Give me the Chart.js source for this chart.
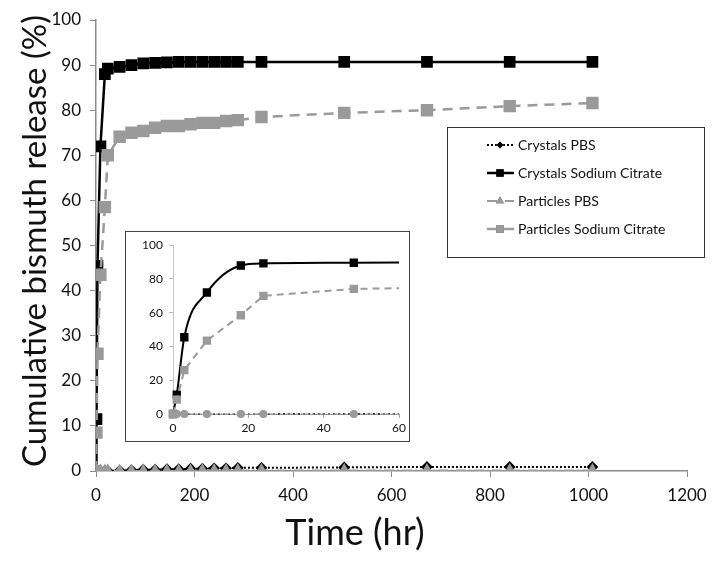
<!DOCTYPE html>
<html>
<head>
<meta charset="utf-8">
<script src="https://cdn.jsdelivr.net/npm/chart.js@4.4.0/dist/chart.umd.min.js"></script>
<style>
  html, body { margin: 0; padding: 0; background: #fff; }
  #wrap { position: relative; width: 716px; height: 563px; }
  #main { position: absolute; left: 0; top: 0; }
  #insetBox { position: absolute; left: 125px; top: 231px; width: 283px; height: 209px;
              border: 1px solid #444; background: #fff; }
</style>
</head>
<body>
<div id="wrap">
  <canvas id="main" width="716" height="563"></canvas>
  <div id="insetBox"><canvas id="inset" width="283" height="209"></canvas></div>
</div>
<script>
// release data (hours vs % released)
const hours = [0, 1, 3, 9, 18, 24, 48, 72, 96, 120, 144, 168, 192, 216, 240, 264, 288, 336, 504, 672, 840, 1008];
const crystalsPBS = [0, 0, 0, 0, 0, 0, 0.1, 0.2, 0.3, 0.3, 0.4, 0.4, 0.5, 0.5, 0.6, 0.6, 0.7, 0.7, 0.8, 0.9, 0.9, 0.9];
const crystalsCitrate = [0, 11.5, 45.5, 72, 88, 89.2, 89.6, 90, 90.4, 90.5, 90.6, 90.7, 90.7, 90.7, 90.7, 90.7, 90.7, 90.7, 90.7, 90.7, 90.7, 90.7];
const particlesPBS = [0, 0, 0, 0, 0, 0, 0, 0, 0, 0, 0, 0, 0, 0.1, 0.1, 0.1, 0.1, 0.1, 0.1, 0.1, 0.1, 0.1];
const particlesCitrate = [0, 8.5, 26, 43.5, 58.5, 70, 74.1, 75, 75.4, 76.1, 76.5, 76.5, 76.9, 77.2, 77.2, 77.6, 77.8, 78.5, 79.4, 80, 80.9, 81.6];

const seriesNames = ['Crystals PBS', 'Crystals Sodium Citrate', 'Particles PBS', 'Particles Sodium Citrate'];
const xTitle = 'Time (hr)';
const yTitle = 'Cumulative bismuth release (%)';

const GREY = '#9a9a9a';
const AXIS = '#8c8c8c';
const FONT = 'Lato';

const pts = vals => hours.map((h, i) => ({ x: h, y: vals[i] }));
const plain = v => String(v);   // no thousands separator

// === Main chart ===
function mainDatasets() {
  return [
    { label: seriesNames[0], data: pts(crystalsPBS), borderColor: '#000', backgroundColor: '#000',
      borderWidth: 2, borderDash: [2, 2], pointStyle: 'rectRot', pointRadius: 4.5, order: 4 },
    { label: seriesNames[1], data: pts(crystalsCitrate), borderColor: '#000', backgroundColor: '#000',
      borderWidth: 2.5, pointStyle: 'rect', pointRadius: 6.5, order: 3 },
    { label: seriesNames[2], data: pts(particlesPBS), borderColor: GREY, backgroundColor: GREY,
      borderWidth: 2, borderDash: [10, 3, 2, 3], pointStyle: 'triangle', pointRadius: 5.5, order: 2 },
    { label: seriesNames[3], data: pts(particlesCitrate), borderColor: GREY, backgroundColor: GREY,
      borderWidth: 2.5, borderDash: [10, 7], pointStyle: 'rect', pointRadius: 7, order: 1 }
  ];
}

// titles + boxed legend drawn by hand (Excel-style placement)
const decorPlugin = {
  id: 'decor',
  afterDraw(chart) {
    const ctx = chart.ctx;
    ctx.save();
    ctx.fillStyle = '#111';
    ctx.textAlign = 'center';
    ctx.textBaseline = 'middle';
    ctx.font = '36px ' + FONT;
    ctx.fillText(xTitle, 355, 533);
    ctx.translate(35, 241);
    ctx.rotate(-Math.PI / 2);
    ctx.font = '33px ' + FONT;
    ctx.fillText(yTitle, 0, 0);
    ctx.restore();

    // legend
    ctx.save();
    ctx.fillStyle = '#fff';
    ctx.fillRect(447.5, 127.5, 257, 130);
    ctx.strokeStyle = '#333';
    ctx.lineWidth = 1;
    ctx.strokeRect(447.5, 127.5, 257, 130);
    const ys = [145, 173, 201, 229];
    chart.data.datasets.forEach((ds, i) => {
      const y = ys[i];
      ctx.beginPath();
      ctx.setLineDash(ds.borderDash || []);
      ctx.strokeStyle = ds.borderColor;
      ctx.lineWidth = ds.borderWidth;
      ctx.moveTo(487, y);
      ctx.lineTo(514, y);
      ctx.stroke();
      ctx.setLineDash([]);
      Chart.helpers.drawPoint(ctx, { pointStyle: ds.pointStyle, radius: ds.pointRadius * 0.8, borderWidth: 0 }, 500, y);
      ctx.fillStyle = ds.backgroundColor;
      ctx.fill();
      ctx.fillStyle = '#111';
      ctx.font = '14px ' + FONT;
      ctx.textAlign = 'left';
      ctx.textBaseline = 'middle';
      ctx.fillText(ds.label, 518, y);
    });
    ctx.restore();
  }
};

new Chart(document.getElementById('main'), {
  type: 'line',
  data: { datasets: mainDatasets() },
  options: {
    responsive: false,
    animation: false,
    layout: { padding: { top: 20, right: 29, left: 0, bottom: 0 } },
    plugins: { legend: { display: false }, tooltip: { enabled: false } },
    scales: {
      x: {
        type: 'linear', min: 0, max: 1200,
        ticks: { stepSize: 200, color: '#111', font: { family: FONT, size: 17 }, padding: 8, maxRotation: 0, callback: plain },
        grid: { drawOnChartArea: false, tickLength: 6, color: AXIS },
        border: { color: AXIS, width: 1.5 },
        afterFit: s => { s.height = 92; }
      },
      y: {
        min: 0, max: 100,
        ticks: { stepSize: 10, color: '#111', font: { family: FONT, size: 17 }, padding: 9, callback: plain },
        grid: { drawOnChartArea: false, tickLength: 6, color: AXIS },
        border: { color: AXIS, width: 1.5 },
        afterFit: s => { s.width = 96; }
      }
    }
  },
  plugins: [decorPlugin]
});

// === Inset (first 60 h) ===
const insetClip = { left: 8, top: 8, bottom: 8, right: 0 };
new Chart(document.getElementById('inset'), {
  type: 'line',
  data: {
    datasets: [
      { label: seriesNames[0], data: pts(crystalsPBS), borderColor: '#000', backgroundColor: '#000',
        borderWidth: 1.2, borderDash: [2, 3], pointStyle: 'rectRot', pointRadius: 2, order: 4, clip: insetClip },
      { label: seriesNames[1], data: pts(crystalsCitrate), borderColor: '#000', backgroundColor: '#000',
        borderWidth: 2, cubicInterpolationMode: 'monotone', pointStyle: 'rect', pointRadius: 4.5, order: 3, clip: insetClip },
      { label: seriesNames[2], data: pts(particlesPBS), borderColor: GREY, backgroundColor: GREY,
        borderWidth: 1.2, borderDash: [8, 3, 2, 3], pointStyle: 'circle', pointRadius: 3.5, order: 2, clip: insetClip },
      { label: seriesNames[3], data: pts(particlesCitrate), borderColor: GREY, backgroundColor: GREY,
        borderWidth: 2, borderDash: [7, 5], pointStyle: 'rect', pointRadius: 4.5, order: 1, clip: insetClip }
    ]
  },
  options: {
    responsive: false,
    animation: false,
    layout: { padding: { top: 8, right: 7, left: 0, bottom: 0 } },
    plugins: { legend: { display: false }, tooltip: { enabled: false } },
    scales: {
      x: {
        type: 'linear', min: 0, max: 60,
        ticks: { stepSize: 20, color: '#111', font: { family: FONT, size: 12 }, padding: 3, maxRotation: 0 },
        grid: { drawOnChartArea: false, tickLength: 4, color: '#aaa' },
        border: { color: '#999', width: 1 },
        afterFit: s => { s.height = 27; }
      },
      y: {
        min: 0, max: 100,
        ticks: { stepSize: 20, color: '#111', font: { family: FONT, size: 12 }, padding: 6 },
        grid: { drawOnChartArea: false, tickLength: 4, color: '#bbb' },
        border: { color: '#c4c4c4', width: 1 },
        afterFit: s => { s.width = 47; }
      }
    }
  }
});
</script>
</body>
</html>
